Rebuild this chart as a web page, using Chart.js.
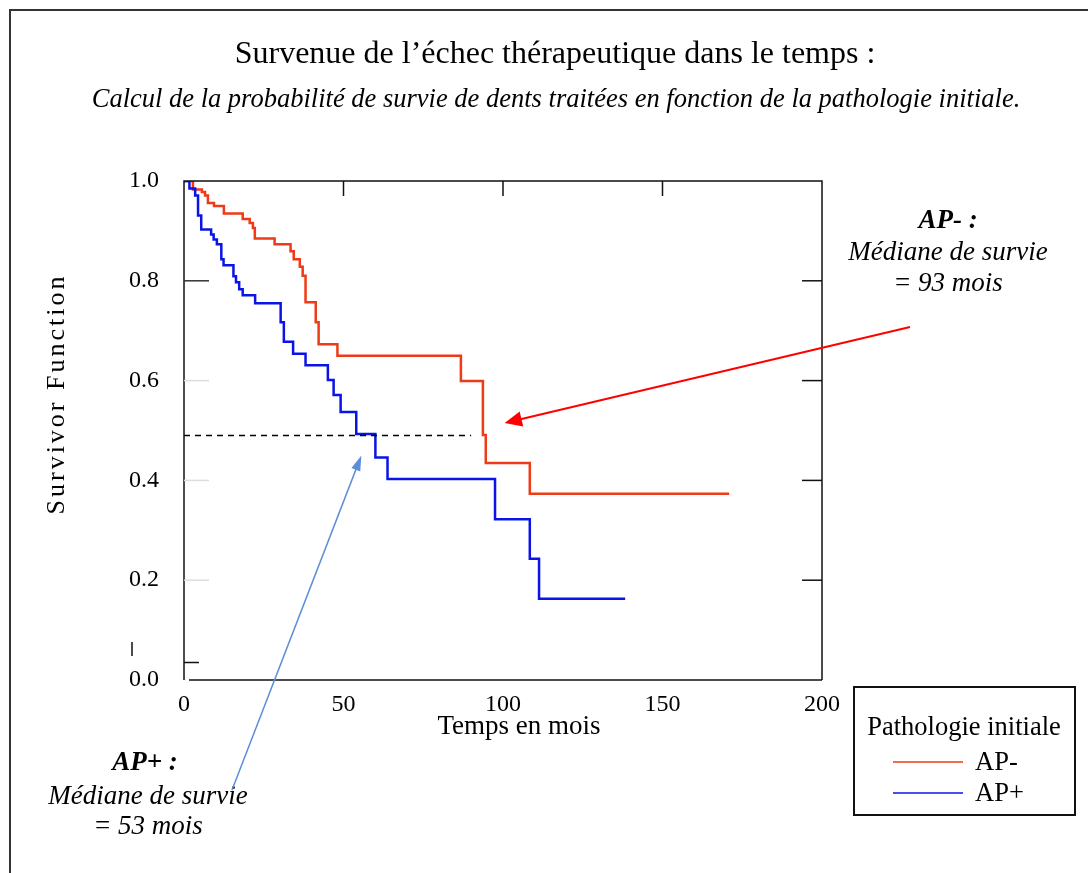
<!DOCTYPE html>
<html lang="fr">
<head>
<meta charset="utf-8">
<title>Survenue de l'échec thérapeutique</title>
<script src="https://cdn.jsdelivr.net/npm/chart.js@4/dist/chart.umd.min.js"></script>
<style>
  html, body { margin: 0; padding: 0; background: #fff; }
  #survie { display: block; }
</style>
</head>
<body>
<canvas id="survie" width="1088" height="873"></canvas>
<script>
// Kaplan-Meier : temps (mois) et probabilité de survie après chaque échec
const apMoinsTemps = [0, 2.8, 5.6, 6.6, 7.5, 9.4, 12.5, 18.4, 20.6, 21.6, 22.2, 28.4, 33.4, 34.4, 36.3, 37.2, 38.1, 41.3, 42.2, 48.1, 86.8, 93.7, 94.6, 108.4, 170.9];
const apMoinsSurvie = [1.0, 0.983, 0.978, 0.971, 0.956, 0.95, 0.935, 0.924, 0.916, 0.906, 0.885, 0.873, 0.859, 0.843, 0.828, 0.81, 0.757, 0.717, 0.673, 0.65, 0.599, 0.491, 0.435, 0.373, 0.373];

const apPlusTemps = [0, 1.7, 3.5, 4.4, 5.4, 8.5, 9.3, 10.3, 11.7, 12.4, 15.5, 16.3, 17.3, 18.4, 22.3, 30.3, 31.3, 34.2, 38.1, 45.1, 46.9, 49.1, 54.0, 60.0, 63.8, 97.5, 108.4, 111.3, 138.3];
const apPlusSurvie = [1.0, 0.985, 0.971, 0.931, 0.903, 0.893, 0.883, 0.873, 0.843, 0.831, 0.809, 0.797, 0.783, 0.771, 0.755, 0.717, 0.678, 0.654, 0.631, 0.601, 0.571, 0.537, 0.493, 0.446, 0.403, 0.322, 0.243, 0.163, 0.163];

// ligne pointillée de la médiane
const medianeTemps = [0, 90];
const medianeSurvie = [0.49, 0.49];

const xTicks = [0, 50, 100, 150, 200];
const yTicks = [0.0, 0.2, 0.4, 0.6, 0.8, 1.0];

const rouge = '#ee3a16';
const bleu = '#0a14e6';
const serif = '"Liberation Serif", "Times New Roman", serif';

const toPoints = (xs, ys) => xs.map((x, i) => ({ x: x, y: ys[i] }));

// cadre, graduations, textes, flèches et légende dessinés par-dessus
const habillage = {
  id: 'habillage',
  beforeDraw(chart) {
    const ctx = chart.ctx;
    ctx.save();
    ctx.fillStyle = '#fff';
    ctx.fillRect(0, 0, chart.width, chart.height);
    ctx.restore();
  },
  afterDraw(chart) {
    const ctx = chart.ctx;
    const a = chart.chartArea;
    const sx = chart.scales.x, sy = chart.scales.y;
    ctx.save();

    // bordure de la page
    ctx.strokeStyle = '#333';
    ctx.lineWidth = 2;
    ctx.beginPath();
    ctx.moveTo(10, chart.height);
    ctx.lineTo(10, 10);
    ctx.lineTo(chart.width, 10);
    ctx.stroke();

    // cadre du graphique
    ctx.strokeStyle = '#111';
    ctx.lineWidth = 1.5;
    ctx.beginPath();
    ctx.moveTo(a.left, a.bottom);
    ctx.lineTo(a.left, a.top);
    ctx.lineTo(a.right, a.top);
    ctx.lineTo(a.right, a.bottom);
    ctx.moveTo(a.left + 5, a.bottom);
    ctx.lineTo(a.right, a.bottom);
    ctx.stroke();

    // graduations intérieures
    yTicks.slice(1, 5).forEach(v => {
      const y = sy.getPixelForValue(v);
      ctx.strokeStyle = '#111';
      ctx.beginPath();
      ctx.moveTo(a.right - 20, y);
      ctx.lineTo(a.right, y);
      ctx.stroke();
      ctx.strokeStyle = v === 0.8 ? '#333' : '#ddd';
      ctx.beginPath();
      ctx.moveTo(a.left, y);
      ctx.lineTo(a.left + 25, y);
      ctx.stroke();
    });
    ctx.strokeStyle = '#111';
    xTicks.slice(1, 4).forEach(v => {
      const x = sx.getPixelForValue(v);
      ctx.beginPath();
      ctx.moveTo(x, a.top);
      ctx.lineTo(x, a.top + 15);
      ctx.stroke();
    });
    ctx.beginPath();
    ctx.moveTo(a.left, sy.getPixelForValue(0.035));
    ctx.lineTo(a.left + 15, sy.getPixelForValue(0.035));
    ctx.moveTo(132, 642);
    ctx.lineTo(132, 656);
    ctx.stroke();

    // titres
    ctx.fillStyle = '#000';
    ctx.textAlign = 'center';
    ctx.textBaseline = 'middle';
    ctx.font = '32px ' + serif;
    ctx.fillText('Survenue de l\u2019échec thérapeutique dans le temps :', 555, 55);
    ctx.font = 'italic 26.5px ' + serif;
    ctx.fillText('Calcul de la probabilité de survie de dents traitées en fonction de la pathologie initiale.', 556, 100);

    // titres des axes
    ctx.font = '27px ' + serif;
    ctx.fillText('Temps en mois', 519, 727);
    ctx.save();
    ctx.translate(57, 394);
    ctx.rotate(-Math.PI / 2);
    ctx.font = '26px ' + serif;
    ctx.letterSpacing = '3px';
    ctx.fillText('Survivor Function', 0, 0);
    ctx.restore();

    // annotations des médianes
    ctx.font = 'bold italic 27px ' + serif;
    ctx.fillText('AP- :', 948, 221);
    ctx.fillText('AP+ :', 145, 763);
    ctx.font = 'italic 27px ' + serif;
    ctx.fillText('Médiane de survie', 948, 253);
    ctx.fillText('= 93 mois', 948, 284);
    ctx.fillText('Médiane de survie', 148, 797);
    ctx.fillText('= 53 mois', 148, 827);

    const fleche = (x0, y0, x1, y1, couleur, larg, tete, ouverture) => {
      const ang = Math.atan2(y1 - y0, x1 - x0);
      ctx.strokeStyle = couleur;
      ctx.fillStyle = couleur;
      ctx.lineWidth = larg;
      ctx.beginPath();
      ctx.moveTo(x0, y0);
      ctx.lineTo(x1 - Math.cos(ang) * tete * 0.8, y1 - Math.sin(ang) * tete * 0.8);
      ctx.stroke();
      ctx.beginPath();
      ctx.moveTo(x1, y1);
      ctx.lineTo(x1 - tete * Math.cos(ang - ouverture), y1 - tete * Math.sin(ang - ouverture));
      ctx.lineTo(x1 - tete * Math.cos(ang + ouverture), y1 - tete * Math.sin(ang + ouverture));
      ctx.closePath();
      ctx.fill();
    };
    fleche(910, 327, sx.getPixelForValue(100.5), sy.getPixelForValue(0.515), '#ff0000', 2, 19, 0.42);
    fleche(232, 790, sx.getPixelForValue(55.6), sy.getPixelForValue(0.45), '#5b8fd8', 1.5, 16, 0.3);

    // légende
    ctx.strokeStyle = '#111';
    ctx.lineWidth = 2;
    ctx.strokeRect(854, 687, 221, 128);
    ctx.fillStyle = '#000';
    ctx.font = '26.5px ' + serif;
    ctx.textAlign = 'center';
    ctx.fillText('Pathologie initiale', 964, 728);
    ctx.textAlign = 'left';
    [['AP-', rouge, 762], ['AP+', bleu, 793]].forEach(([nom, couleur, y]) => {
      ctx.strokeStyle = couleur;
      ctx.lineWidth = 1.5;
      ctx.beginPath();
      ctx.moveTo(893, y);
      ctx.lineTo(963, y);
      ctx.stroke();
      ctx.fillText(nom, 975, y + 1);
    });

    ctx.restore();
  }
};

new Chart(document.getElementById('survie'), {
  type: 'line',
  data: {
    datasets: [
      {
        label: 'Médiane',
        data: toPoints(medianeTemps, medianeSurvie),
        borderColor: '#000',
        borderWidth: 1.5,
        borderDash: [6, 5],
        pointRadius: 0
      },
      {
        label: 'AP+',
        data: toPoints(apPlusTemps, apPlusSurvie),
        borderColor: bleu,
        borderWidth: 2.5,
        stepped: 'before',
        pointRadius: 0
      },
      {
        label: 'AP-',
        data: toPoints(apMoinsTemps, apMoinsSurvie),
        borderColor: rouge,
        borderWidth: 2.5,
        stepped: 'before',
        pointRadius: 0
      }
    ]
  },
  options: {
    responsive: false,
    animation: false,
    layout: { padding: { top: 181, right: 266, left: 0, bottom: 0 } },
    plugins: {
      legend: { display: false },
      tooltip: { enabled: false }
    },
    scales: {
      x: {
        type: 'linear',
        min: 0,
        max: 200,
        afterBuildTicks: s => { s.ticks = xTicks.map(v => ({ value: v })); },
        ticks: {
          color: '#000',
          font: { family: serif, size: 24 },
          padding: 10,
          maxRotation: 0
        },
        grid: { display: false, drawTicks: false },
        border: { display: false },
        afterFit: s => { s.height = 193; }
      },
      y: {
        min: 0,
        max: 1,
        afterBuildTicks: s => { s.ticks = yTicks.map(v => ({ value: v })); },
        ticks: {
          color: '#000',
          font: { family: serif, size: 24 },
          padding: 25,
          callback: v => v.toFixed(1)
        },
        grid: { display: false, drawTicks: false },
        border: { display: false },
        afterFit: s => { s.width = 184; }
      }
    }
  },
  plugins: [habillage]
});
</script>
</body>
</html>
